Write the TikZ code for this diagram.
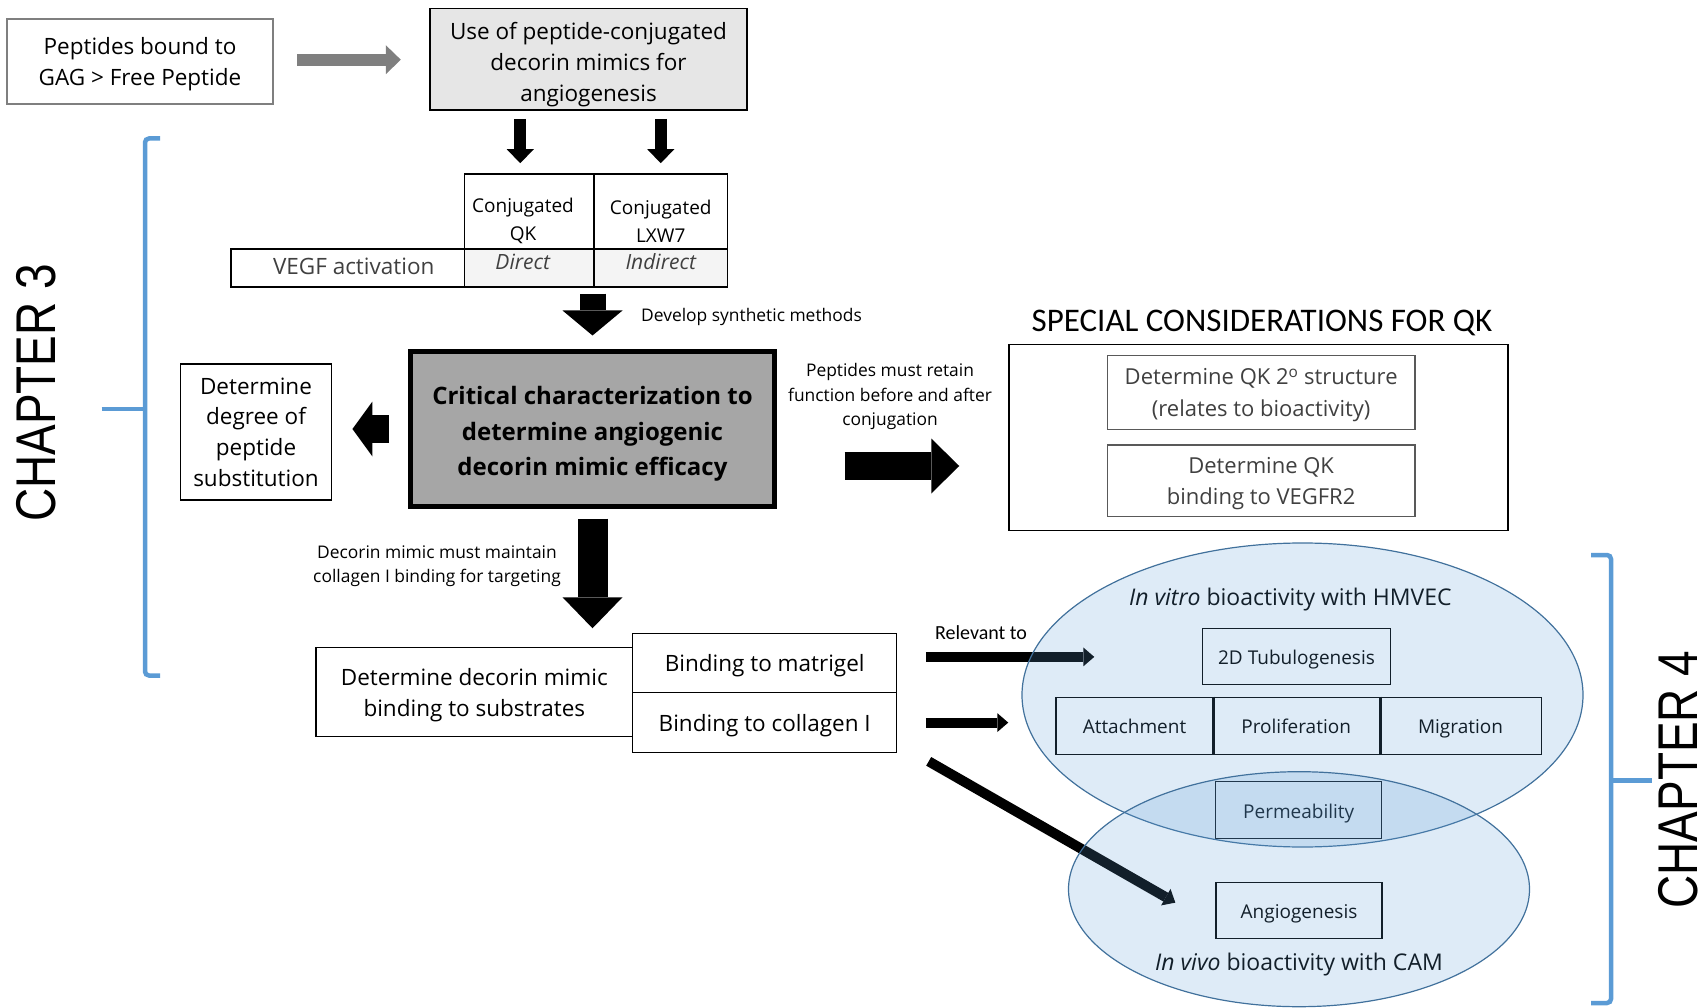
\documentclass[tikz,border=0pt]{standalone}
\usepackage{fontspec}
\setmainfont{Open Sans}
\newfontfamily\calibrifont{Carlito}
\newfontfamily\chapterfont{Liberation Sans}
\usetikzlibrary{arrows.meta,shapes.geometric}

\definecolor{chapblue}{HTML}{5B9BD5}
\definecolor{ringblue}{HTML}{41719C}
\definecolor{textgray}{HTML}{404040}
\definecolor{framegray}{HTML}{7F7F7F}
\definecolor{darkframe}{HTML}{595959}
\definecolor{boxgray}{HTML}{E6E6E6}
\definecolor{cellgray}{HTML}{F4F4F4}
\definecolor{critgray}{HTML}{A6A6A6}

\begin{document}
\begin{tikzpicture}[
        % --- GENERAL SETTINGS: one unit = one pixel of the layout ---
        x=1pt, y=-1pt,
        % plain boxes with centred text
        box/.style={
            rectangle,
            draw,
            line width=1.5pt,
            inner sep=0pt,
            align=center,
            text depth=0pt,
            font=\fontsize{22.5}{31}\selectfont
        },
        % small boxes inside the ellipses
        assaybox/.style={
            rectangle,
            draw,
            line width=1.5pt,
            inner sep=0pt,
            text height=16pt,
            text depth=0pt,
            font=\fontsize{19}{26}\selectfont
        },
        % free text beside the arrows
        note/.style={
            align=center,
            inner sep=0pt,
            font=\fontsize{17.4}{24.5}\selectfont
        },
        % thick block arrows: shaft width, head width, head length
        blockarrow/.style n args={3}{
            line width=#1,
            -{Triangle[width=#2,length=#3,line width=0pt]}
        },
        % thinner arrows towards the assays
        thinarrow/.style={
            line width=10pt,
            -{Triangle[width=19pt,length=11pt,line width=0pt]}
        },
        % the two assay ellipses
        assay/.style={
            ellipse,
            draw=ringblue,
            line width=1.2pt,
            fill=chapblue,
            fill opacity=0.2,
            inner sep=0pt
        },
        % chapter brackets
        bracket/.style={
            draw=chapblue,
            line width=4.5pt,
            rounded corners=4pt
        },
        chapter/.style={
            rotate=90,
            inner sep=0pt,
            font=\chapterfont\fontsize{56}{56}\selectfont
        }
    ]

    \useasboundingbox (0,0) rectangle (1706,1008);

    % --- CHAPTER 3 BRACKET ---
    \draw[bracket] (160,138.5) -- (145,138.5) -- (145,675.5) -- (160,675.5);
    \draw[bracket] (101.7,409) -- (145,409);
    \node[chapter] (ch3) at (36.5,393) {\scalebox{0.82}[1]{CHAPTER 3}};

    % --- CHAPTER 4 BRACKET ---
    \draw[bracket] (1591,555) -- (1611,555) -- (1611,1003) -- (1591,1003);
    \draw[bracket] (1611,780.5) -- (1652,780.5);
    \node[chapter] (ch4) at (1678,779.5) {\scalebox{0.82}[1]{CHAPTER 4}};

    % --- TOP ROW ---
    \node[box, draw=framegray, line width=2pt, minimum width=265.4pt, minimum height=84.7pt] (peptides) at (140,61.7) {Peptides bound to\\GAG > Free Peptide};
    \node[box, fill=boxgray, line width=1.8pt, minimum width=317pt, minimum height=101.5pt] (use) at (588.5,59.25) {};
    \node[note, font=\fontsize{22.5}{31}\selectfont] (usetext) at (588.5,64.8) {Use of peptide-conjugated\\decorin mimics for\\angiogenesis};

    % --- PEPTIDE TABLE ---
    \node[box, minimum width=129.5pt, minimum height=75pt] (qk) at (529.25,211.5) {};
    \node[box, minimum width=133.5pt, minimum height=75pt] (lxw) at (660.75,211.5) {};
    \node[note, font=\fontsize{19}{28}\selectfont] (qktext) at (523,221) {Conjugated\\QK};
    \node[note, font=\fontsize{19}{28}\selectfont] (lxwtext) at (660.75,221) {Conjugated\\LXW7};
    \node[box, text=textgray, text depth=4pt, minimum width=233.5pt, minimum height=38pt] (vegf) at (347.75,268) {\hspace*{12pt}VEGF activation};
    \node[box, fill=cellgray, text=textgray, text depth=12pt, font=\itshape\fontsize{21}{26}\selectfont, minimum width=129.5pt, minimum height=38pt] (direct) at (529.25,268) {Direct\hspace*{13pt}};
    \node[box, fill=cellgray, text=textgray, text depth=12pt, font=\itshape\fontsize{21}{26}\selectfont, minimum width=133.5pt, minimum height=38pt] (indirect) at (660.75,268) {Indirect};
    \coordinate (qkin) at ([xshift=-9pt]qk.north);

    % --- CENTRAL STEP ---
    \node[box, fill=critgray, line width=5pt, minimum width=364pt, minimum height=155pt] (crit) at (592.5,429) {};
    \node[note, font=\bfseries\fontsize{24}{35.5}\selectfont] (crittext) at (592.5,434) {Critical characterization to\\determine angiogenic\\decorin mimic efficacy};
    \node[box, minimum width=151pt, minimum height=136pt, font=\fontsize{22.5}{30.8}\selectfont] (degree) at (256,432) {Determine\\degree of\\peptide\\substitution};
    \node[note] (develop) at (751.5,316.5) {Develop synthetic methods};
    \node[note] (retain) at (890,396.5) {Peptides must retain\\function before and after\\conjugation};
    \coordinate (critlow) at ([yshift=-37pt]crit.east);

    % --- SPECIAL CONSIDERATIONS ---
    \node[inner sep=0pt, font=\calibrifont\fontsize{33}{33}\selectfont] (spectitle) at (1262,323) {SPECIAL CONSIDERATIONS FOR QK};
    \node[box, minimum width=499pt, minimum height=186pt] (spec) at (1258.5,437.5) {};
    \node[box, draw=darkframe, text=textgray, font=\fontsize{22}{31.6}\selectfont, minimum width=307.7pt, minimum height=73.6pt] (struct) at (1261.15,392.5) {Determine QK 2\textsuperscript{o} structure\\(relates to bioactivity)};
    \node[box, draw=darkframe, text=textgray, font=\fontsize{22}{31.6}\selectfont, minimum width=307.7pt, minimum height=71.7pt] (vegfr) at (1261.15,480.85) {Determine QK\\binding to VEGFR2};

    % --- SUBSTRATE BINDING ---
    \node[note] (decorin) at (437,566) {Decorin mimic must maintain\\collagen I binding for targeting};
    \node[box, minimum width=316.7pt, minimum height=89.4pt] (subst) at (474.35,692) {Determine decorin mimic\\binding to substrates};
    \node[box, minimum width=264pt, minimum height=59.2pt] (mat) at (764.7,662.9) {Binding to matrigel};
    \node[box, minimum width=264pt, minimum height=60.2pt] (col) at (764.7,722.6) {Binding to collagen I};
    \node[note, font=\calibrifont\fontsize{20}{24}\selectfont] (relevant) at (981,632.7) {Relevant to};
    \coordinate (matout) at ([yshift=6pt]mat.east);
    \coordinate (colout) at ([yshift=10pt]col.south east);

    % --- BLOCK ARROWS ---
    \draw[blockarrow={12pt}{29pt}{15pt}, framegray, shorten <=23.3pt, shorten >=28.3pt] ([yshift=2pt]peptides.east) -- ([yshift=2pt]peptides.east -| use.west);
    \draw[blockarrow={12pt}{27pt}{14pt}, shorten <=8pt, shorten >=10pt] (qkin |- use.south) -- (qkin);
    \draw[blockarrow={12pt}{27pt}{14pt}, shorten <=8pt, shorten >=10pt] (lxw.north |- use.south) -- (lxw.north);
    \draw[blockarrow={26pt}{60pt}{25pt}, shorten <=6pt, shorten >=13.5pt] (direct.south -| crit.north) -- (crit.north);
    \draw[blockarrow={28pt}{55pt}{20pt}, shorten <=18.8pt, shorten >=20.2pt] (crit.west) -- (crit.west -| degree.east);
    \draw[blockarrow={28pt}{55pt}{28pt}, shorten <=67.5pt, shorten >=49pt] (critlow) -- (critlow -| spec.west);
    \draw[blockarrow={30pt}{60pt}{31pt}, shorten <=9.5pt, shorten >=18.3pt] (crit.south) -- (crit.south |- subst.north);

    % --- ASSAYS ---
    \node[assaybox, minimum width=188.4pt, minimum height=56pt] (tub) at (1296.5,656.3) {2D Tubulogenesis};
    \node[assaybox, minimum width=157pt, minimum height=57pt] (att) at (1134.5,725.8) {Attachment};
    \node[assaybox, minimum width=166.3pt, minimum height=57pt] (pro) at (1296.15,725.8) {Proliferation};
    \node[assaybox, minimum width=162.4pt, minimum height=57pt] (mig) at (1460.5,725.8) {Migration};
    \draw[line width=3pt] (att.north east) -- (att.south east);
    \draw[line width=3pt] (pro.north east) -- (pro.south east);
    \node[assaybox, minimum width=166pt, minimum height=56.6pt] (perm) at (1298.7,810) {Permeability};
    \node[assaybox, minimum width=166pt, minimum height=56pt] (ang) at (1299,910.5) {Angiogenesis};
    \node[inner sep=0pt, font=\fontsize{23}{28}\selectfont] (vitro) at (1290.4,599.5) {\textit{In vitro} bioactivity with HMVEC};
    \node[inner sep=0pt, font=\fontsize{23}{28}\selectfont] (vivo) at (1299,965) {\textit{In vivo} bioactivity with CAM};

    % --- ARROWS TOWARDS THE ASSAYS ---
    \draw[thinarrow, shorten <=28.3pt, shorten >=107.3pt] (matout) -- (matout -| tub.west);
    \draw[thinarrow, shorten <=28.3pt, shorten >=47pt] (col.east) -- (col.east -| att.west);
    \draw[thinarrow, shorten <=36pt, shorten >=46pt] (colout) -- ([yshift=-15pt]ang.west);

    % --- ELLIPSES ON TOP ---
    \node[assay, minimum width=561pt, minimum height=304pt] (invitro) at (1302.5,695) {};
    \node[assay, minimum width=461pt, minimum height=235pt] (invivo) at (1299,889.2) {};

\end{tikzpicture}
\end{document}
